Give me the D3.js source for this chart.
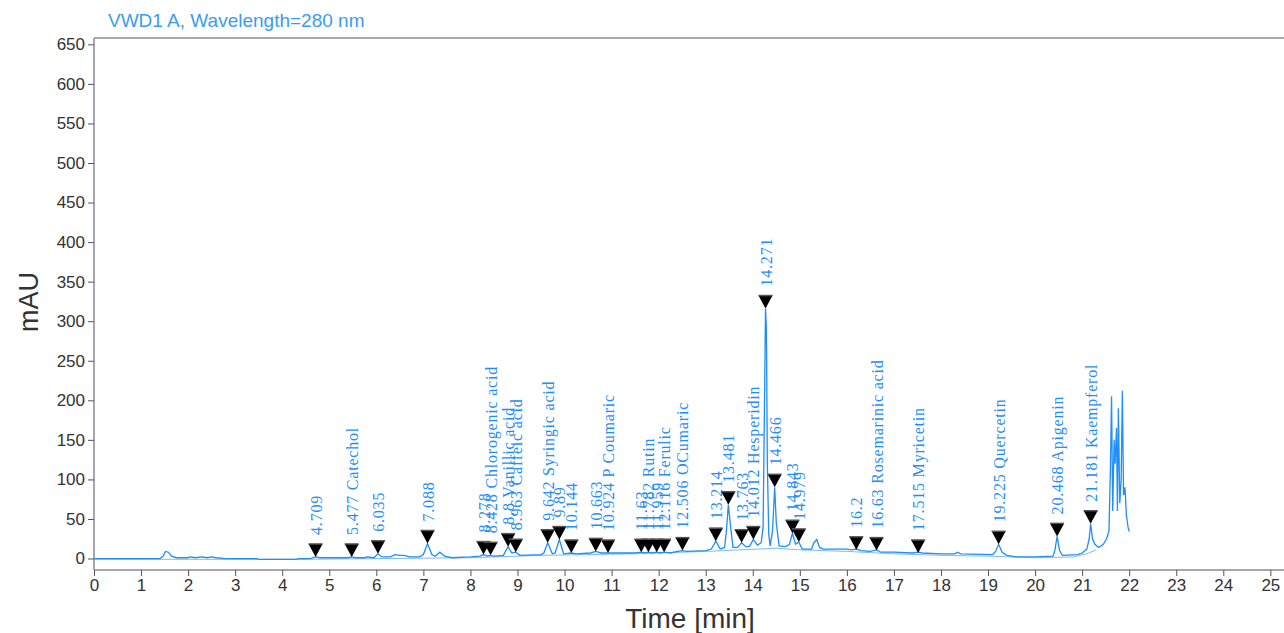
<!DOCTYPE html>
<html>
<head>
<meta charset="utf-8">
<script src="https://cdn.jsdelivr.net/npm/d3@7"></script>
<style>
  body { margin: 0; background: #fff; }
  svg { display: block; }
</style>
</head>
<body>
<div id="content"></div>
<script>
const w = 1284
const h = 633

// peak table (retention time, compound name, apex height in mAU)
const peakTimes = [4.709, 5.477, 6.035, 7.088, 8.278, 8.428, 8.8, 8.963, 9.642, 9.89, 10.144,
  10.663, 10.924, 11.63, 11.782, 11.959, 12.116, 12.506, 13.214, 13.481, 13.763, 14.012,
  14.271, 14.466, 14.843, 14.979, 16.2, 16.63, 17.515, 19.225, 20.468, 21.181];
const peakNames = ["", "Catechol", "", "", "", "Chlorogenic acid", "Vanillic acid", "Caffeic acid",
  "Syringic acid", "", "", "", "P Coumaric", "", "Rutin", "", "Ferulic", "OCumaric", "", "", "",
  "Hesperidin", "", "", "", "", "", "Rosemarinic acid", "Myricetin", "Quercetin", "Apigenin", "Kaempferol"];
const peakHeights = [2, 2, 6, 19, 5, 4, 15, 8, 20, 24, 7, 9, 7, 8, 8, 8, 8, 10, 22, 68, 20, 24,
  316, 90, 32, 21, 11, 10, 7, 18, 28, 44];

// detector signal
const traceTime = [0, 1.4, 1.47, 1.52, 1.58, 1.65, 1.75, 2.0, 2.05, 2.15, 2.3, 2.4, 2.5, 2.6, 2.8,
  3.45, 3.5, 4.3, 4.35, 4.6, 4.709, 4.8, 5.4, 5.477, 5.55, 5.75, 5.8, 5.95, 6.035, 6.12, 6.3, 6.4,
  6.5, 6.6, 6.7, 6.9, 6.95, 7.0, 7.088, 7.18, 7.25, 7.35, 7.45, 7.6, 8.0, 8.2, 8.278, 8.35, 8.428,
  8.5, 8.7, 8.8, 8.88, 8.963, 9.05, 9.5, 9.56, 9.642, 9.74, 9.8, 9.89, 9.98, 10.144, 10.25, 10.55,
  10.663, 10.78, 10.924, 11.1, 11.5, 11.63, 11.7, 11.782, 11.86, 11.959, 12.03, 12.116, 12.25,
  12.4, 12.506, 12.6, 13.0, 13.12, 13.214, 13.31, 13.4, 13.44, 13.481, 13.53, 13.58, 13.68, 13.763, 13.85,
  13.93, 14.012, 14.1, 14.18, 14.22, 14.25, 14.271, 14.29, 14.31, 14.34, 14.37, 14.42, 14.466, 14.5, 14.56,
  14.7, 14.78, 14.843, 14.91, 14.979, 15.05, 15.25, 15.3, 15.36, 15.42, 15.5, 16.0, 16.1, 16.2,
  16.3, 16.5, 16.63, 16.72, 17.0, 17.4, 17.515, 17.6, 18.0, 18.3, 18.35, 18.42, 19.1, 19.16,
  19.225, 19.3, 19.4, 19.6, 20.0, 20.38, 20.42, 20.468, 20.52, 20.58, 20.9, 21.0, 21.1, 21.15,
  21.181, 21.22, 21.27, 21.35, 21.45, 21.52, 21.57, 21.6, 21.625, 21.65, 21.68, 21.7, 21.73,
  21.75, 21.77, 21.8, 21.83, 21.855, 21.88, 21.91, 21.94, 21.98, 22.0];
const traceValue = [0, 0, 3, 9, 8, 3, 1, 1, 2, 1, 2, 1, 2, 1, 0,
  0, -1, -1, 0, 0, 2, 1, 1, 2, 1, 1, 2, 1, 6, 2, 2, 5,
  4, 4, 2, 2, 3, 5, 19, 5, 3, 8, 3, 1, 2, 3, 5, 3, 4,
  3, 4, 15, 7, 8, 4, 5, 7, 20, 6, 7, 24, 6, 7, 6, 7,
  9, 7, 7, 7, 7, 8, 7, 8, 7, 8, 7, 8, 7,
  9, 10, 9, 10, 12, 22, 12, 14, 35, 68, 40, 14, 14, 20, 15,
  15, 24, 17, 20, 40, 200, 316, 290, 120, 30, 16, 35, 90, 45, 16,
  15, 18, 32, 18, 21, 12, 12, 20, 24, 14, 12, 12, 11, 12,
  10, 9, 11, 8, 8, 7, 8, 7, 6, 6, 8, 6, 5, 9,
  18, 8, 4, 2, 2, 3, 10, 28, 10, 4, 5, 7, 12, 25,
  44, 25, 18, 14, 18, 25, 35, 110, 205, 60, 150, 120, 165,
  60, 190, 70, 100, 212, 80, 90, 55, 38, 34];

// integration baseline
const baseTime = [0, 4.4, 8, 9.5, 11.5, 13, 14.5, 15, 16, 17, 18, 19, 20, 20.8, 21.1, 21.3];
const baseValue = [-1, -1, 1, 4, 6, 9, 13, 11, 9, 6, 4, 3, 1, 2, 6, 11];

const xTicks = d3.range(0, 26);
const yTicks = d3.range(0, 651, 50);

const blue = "#1f8ef5";
const axisColor = "#a4a6b4";

let svg = d3.select("#content")
  .append("svg")
  .attr("width", w)
  .attr("height", h);

let x = d3.scaleLinear().domain([0, 25.29]).range([94, 1284]);
let y = d3.scaleLinear().domain([-14.5, 658]).range([570, 38]);

// title
svg.append("text")
  .attr("x", 108).attr("y", 27)
  .attr("font-family", "Liberation Sans, Arial, sans-serif")
  .attr("font-size", 19)
  .attr("fill", "#3b9cf0")
  .text("VWD1 A, Wavelength=280 nm");

// frame
svg.append("line").attr("x1", 94).attr("x2", w).attr("y1", 38).attr("y2", 38)
  .attr("stroke", axisColor).attr("stroke-width", 2);

let gx = svg.append("g")
  .attr("transform", "translate(0,570)")
  .call(d3.axisBottom(x).tickValues(xTicks).tickSize(6).tickSizeOuter(0).tickPadding(3));
let gy = svg.append("g")
  .attr("transform", "translate(94,0)")
  .call(d3.axisLeft(y).tickValues(yTicks).tickSize(6).tickSizeOuter(0).tickPadding(3));

[gx, gy].forEach(g => {
  g.select(".domain").attr("stroke", axisColor).attr("stroke-width", 2);
  g.selectAll(".tick line").attr("stroke", "#555");
  g.selectAll(".tick text")
    .attr("font-family", "Liberation Sans, Arial, sans-serif")
    .attr("font-size", 17)
    .attr("fill", "#333");
});
// full-width domain lines
gx.select(".domain").attr("d", "M94,0H" + w);
gy.select(".domain").attr("d", "M0,38V570");

svg.append("text")
  .attr("x", 690).attr("y", 628)
  .attr("text-anchor", "middle")
  .attr("font-family", "Liberation Sans, Arial, sans-serif")
  .attr("font-size", 28)
  .attr("fill", "#333")
  .text("Time [min]");

svg.append("text")
  .attr("transform", "translate(38,302) rotate(-90)")
  .attr("text-anchor", "middle")
  .attr("font-family", "Liberation Sans, Arial, sans-serif")
  .attr("font-size", 27)
  .attr("fill", "#333")
  .text("mAU");

// signal
let line = d3.line().x(d => x(d[0])).y(d => y(d[1]));

svg.append("path")
  .datum(baseTime.map((t, i) => [t, baseValue[i]]))
  .attr("d", line)
  .attr("fill", "none")
  .attr("stroke", "#7dbdf5")
  .attr("stroke-width", 1);

svg.append("path")
  .datum(traceTime.map((t, i) => [t, traceValue[i]]))
  .attr("d", line)
  .attr("fill", "none")
  .attr("stroke", blue)
  .attr("stroke-width", 1.3);

// peak markers and labels
let peaks = peakTimes.map((t, i) => ({ t: t, name: peakNames[i], v: peakHeights[i] }));

let pg = svg.selectAll(".peak")
  .data(peaks)
  .enter()
  .append("g")
  .attr("class", "peak")
  .attr("transform", d => "translate(" + x(d.t) + "," + y(d.v) + ")");

pg.append("path")
  .attr("d", "M-7,-13 L7,-13 L0,0 Z")
  .attr("fill", "#000");
pg.append("line")
  .attr("x1", -7).attr("x2", 7).attr("y1", -13).attr("y2", -13)
  .attr("stroke", "#555").attr("stroke-width", 1.5);

pg.append("text")
  .attr("transform", "translate(6,-22) rotate(-90)")
  .attr("font-family", "Liberation Serif, Times New Roman, serif")
  .attr("font-size", 16)
  .attr("letter-spacing", 0.8)
  .attr("fill", blue)
  .text(d => d.t + (d.name ? " " + d.name : ""));
</script>
</body>
</html>
